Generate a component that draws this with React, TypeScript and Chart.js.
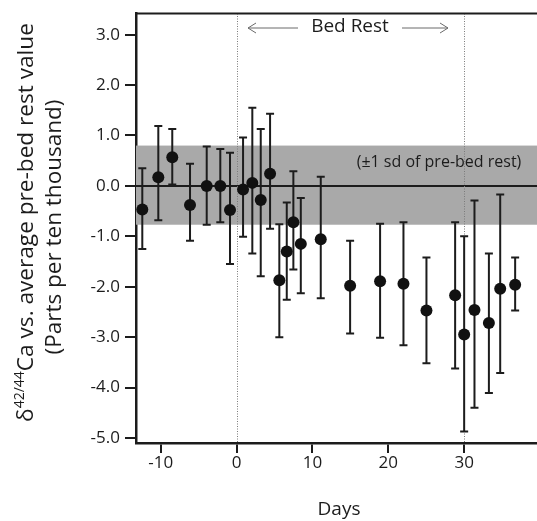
import React, { useEffect, useRef } from "react";
import { Chart, registerables } from "chart.js";

Chart.register(...registerables);

// ---- data ----
const days = [-12.42, -10.31, -8.47, -6.13, -3.93, -2.14, -0.86, 0.86, 2.08, 3.19, 4.42, 5.64, 6.62, 7.49, 8.47, 11.1, 14.97, 18.92, 22.0, 25.03, 28.81, 30.0, 31.36, 33.26, 34.75, 36.72];
const values = [-0.47, 0.17, 0.57, -0.38, 0.0, 0.0, -0.48, -0.07, 0.06, -0.28, 0.24, -1.87, -1.3, -0.72, -1.15, -1.06, -1.98, -1.89, -1.94, -2.47, -2.17, -2.95, -2.46, -2.72, -2.04, -1.96];
const upper = [0.35, 1.19, 1.13, 0.44, 0.78, 0.73, 0.66, 0.96, 1.55, 1.13, 1.43, -0.76, -0.33, 0.29, -0.24, 0.18, -1.09, -0.75, -0.72, -1.42, -0.72, -1.0, -0.29, -1.34, -0.17, -1.42];
const lower = [-1.25, -0.68, 0.03, -1.09, -0.77, -0.72, -1.55, -1.01, -1.34, -1.79, -0.85, -3.0, -2.26, -1.66, -2.13, -2.23, -2.93, -3.01, -3.16, -3.52, -3.62, -4.87, -4.4, -4.11, -3.71, -2.47];
const xTicks = [-10, 0, 10, 20, 30];
const yTicks = [3, 2, 1, 0, -1, -2, -3, -4, -5];
const sdHigh = 0.8;
const sdLow = -0.77;
const bedRestStart = 0;
const bedRestEnd = 30;

const FAM = "'Open Sans', 'DejaVu Sans', sans-serif";
const INK = "#1c1c1c";

function drawYTitle(ctx: CanvasRenderingContext2D) {
  const mainA = "δ";
  const sup = "42/44";
  const mainB = "Ca vs. average pre-bed rest value";
  const line2 = "(Parts per ten thousand)";
  const measure1 = (f: number) => {
    ctx.font = `${f}px ${FAM}`;
    const a = ctx.measureText(mainA).width;
    const c = ctx.measureText(mainB).width;
    ctx.font = `${f * 0.62}px ${FAM}`;
    const b = ctx.measureText(sup).width;
    return a + b + c;
  };
  const f1 = (20 * 399) / measure1(20);
  ctx.save();
  ctx.fillStyle = INK;
  ctx.textBaseline = "alphabetic";
  ctx.textAlign = "left";
  // line 1
  ctx.save();
  ctx.translate(33, 222.5);
  ctx.rotate(-Math.PI / 2);
  const total = measure1(f1);
  let xx = -total / 2;
  ctx.font = `${f1}px ${FAM}`;
  ctx.fillText(mainA, xx, 0);
  xx += ctx.measureText(mainA).width;
  ctx.font = `${f1 * 0.62}px ${FAM}`;
  ctx.fillText(sup, xx, -f1 * 0.38);
  xx += ctx.measureText(sup).width;
  ctx.font = `${f1}px ${FAM}`;
  ctx.fillText(mainB, xx, 0);
  ctx.restore();
  // line 2
  ctx.save();
  ctx.font = `20px ${FAM}`;
  const w2 = ctx.measureText(line2).width;
  const f2 = (20 * 255) / w2;
  ctx.font = `${f2}px ${FAM}`;
  ctx.translate(61, 227);
  ctx.rotate(-Math.PI / 2);
  ctx.textAlign = "center";
  ctx.fillText(line2, 0, 0);
  ctx.restore();
  ctx.restore();
}

function arrow(ctx: CanvasRenderingContext2D, x1: number, x2: number, y: number, headAtEnd: boolean) {
  ctx.beginPath();
  ctx.moveTo(x1, y);
  ctx.lineTo(x2, y);
  const hx = headAtEnd ? x2 : x1;
  const dir = headAtEnd ? -1 : 1;
  ctx.moveTo(hx + dir * 8, y - 5);
  ctx.lineTo(hx, y);
  ctx.lineTo(hx + dir * 8, y + 5);
  ctx.stroke();
}

const decor = {
  id: "decor",
  beforeDatasetsDraw(chart: any) {
    const { ctx, chartArea: a, scales } = chart;
    const x = scales.x;
    const y = scales.y;
    ctx.save();
    // ±1 sd band
    const yt = y.getPixelForValue(sdHigh);
    const yb = y.getPixelForValue(sdLow);
    ctx.fillStyle = "#a9a9a9";
    ctx.fillRect(a.left, yt, a.right - a.left, yb - yt);
    // zero line
    const y0 = y.getPixelForValue(0);
    ctx.strokeStyle = INK;
    ctx.lineWidth = 2;
    ctx.beginPath();
    ctx.moveTo(a.left, y0);
    ctx.lineTo(a.right, y0);
    ctx.stroke();
    // dotted bed rest boundaries
    ctx.setLineDash([1, 1.5]);
    ctx.strokeStyle = "#7a7a7a";
    ctx.lineWidth = 1;
    for (const d of [bedRestStart, bedRestEnd]) {
      const px = Math.round(x.getPixelForValue(d)) + 0.5;
      ctx.beginPath();
      ctx.moveTo(px, a.top);
      ctx.lineTo(px, a.bottom);
      ctx.stroke();
    }
    ctx.setLineDash([]);
    // error bars
    ctx.strokeStyle = INK;
    ctx.lineWidth = 2;
    days.forEach((d, i) => {
      const px = x.getPixelForValue(d);
      const pt = y.getPixelForValue(upper[i]);
      const pb = y.getPixelForValue(lower[i]);
      ctx.beginPath();
      ctx.moveTo(px, pt);
      ctx.lineTo(px, pb);
      ctx.moveTo(px - 4, pt);
      ctx.lineTo(px + 4, pt);
      ctx.moveTo(px - 4, pb);
      ctx.lineTo(px + 4, pb);
      ctx.stroke();
    });
    ctx.restore();
  },
  afterDraw(chart: any) {
    const { ctx, chartArea: a } = chart;
    ctx.save();
    // top frame line
    ctx.strokeStyle = INK;
    ctx.lineWidth = 2;
    ctx.beginPath();
    ctx.moveTo(a.left, a.top);
    ctx.lineTo(a.right, a.top);
    ctx.stroke();
    // Bed Rest label with arrows
    ctx.fillStyle = INK;
    ctx.font = `19px ${FAM}`;
    ctx.textAlign = "center";
    ctx.textBaseline = "middle";
    ctx.fillText("Bed Rest", 350, 27);
    ctx.strokeStyle = "#6a6a6a";
    ctx.lineWidth = 1;
    arrow(ctx, 248, 298, 28, false);
    arrow(ctx, 402, 448, 28, true);
    // band caption
    ctx.font = `16px ${FAM}`;
    ctx.fillStyle = INK;
    ctx.fillText("(±1 sd of pre-bed rest)", 439, 162);
    // x title
    ctx.font = `19px ${FAM}`;
    ctx.textBaseline = "alphabetic";
    ctx.fillText("Days", 339, 515);
    ctx.restore();
    drawYTitle(ctx);
  },
};

export default function App() {
  const ref = useRef<HTMLCanvasElement | null>(null);
  useEffect(() => {
    if (!ref.current) return;
    const chart = new Chart(ref.current, {
      type: "scatter",
      data: {
        datasets: [
          {
            data: days.map((d, i) => ({ x: d, y: values[i] })),
            pointRadius: 6,
            pointHoverRadius: 6,
            backgroundColor: "#111",
            borderWidth: 0,
          },
        ],
      },
      options: {
        responsive: false,
        animation: false,
        events: [],
        layout: { autoPadding: false, padding: { top: 10, right: 0, left: 0, bottom: 0 } },
        plugins: { legend: { display: false }, tooltip: { enabled: false } },
        scales: {
          x: {
            type: "linear",
            min: -13.25,
            max: 39.6,
            afterBuildTicks: (s: any) => {
              s.ticks = xTicks.map((v) => ({ value: v }));
            },
            afterFit: (s: any) => {
              s.height = 78;
            },
            ticks: {
              autoSkip: false,
              maxRotation: 0,
              padding: 2,
              color: INK,
              font: { family: FAM, size: 17, lineHeight: 1 },
              callback: (v: any) => String(v),
            },
            grid: { display: true, drawOnChartArea: false, drawTicks: true, tickLength: 10, lineWidth: 2, color: INK },
            border: { display: true, color: INK, width: 2.5 },
          },
          y: {
            type: "linear",
            min: -5.1,
            max: 3.42,
            afterBuildTicks: (s: any) => {
              s.ticks = yTicks.map((v) => ({ value: v }));
            },
            afterFit: (s: any) => {
              s.width = 136;
            },
            ticks: {
              autoSkip: false,
              padding: 5,
              color: INK,
              font: { family: FAM, size: 17, lineHeight: 1 },
              callback: (v: any) => Number(v).toFixed(1),
            },
            grid: { display: true, drawOnChartArea: false, drawTicks: true, tickLength: 11, lineWidth: 2, color: INK },
            border: { display: true, color: INK, width: 2.5 },
          },
        },
      },
      plugins: [decor],
    } as any);
    return () => chart.destroy();
  }, []);
  return (
    <div style={{ position: "fixed", left: 0, top: 0, width: 537, height: 521, background: "#fff" }}>
      <canvas ref={ref} width={537} height={521} />
    </div>
  );
}
